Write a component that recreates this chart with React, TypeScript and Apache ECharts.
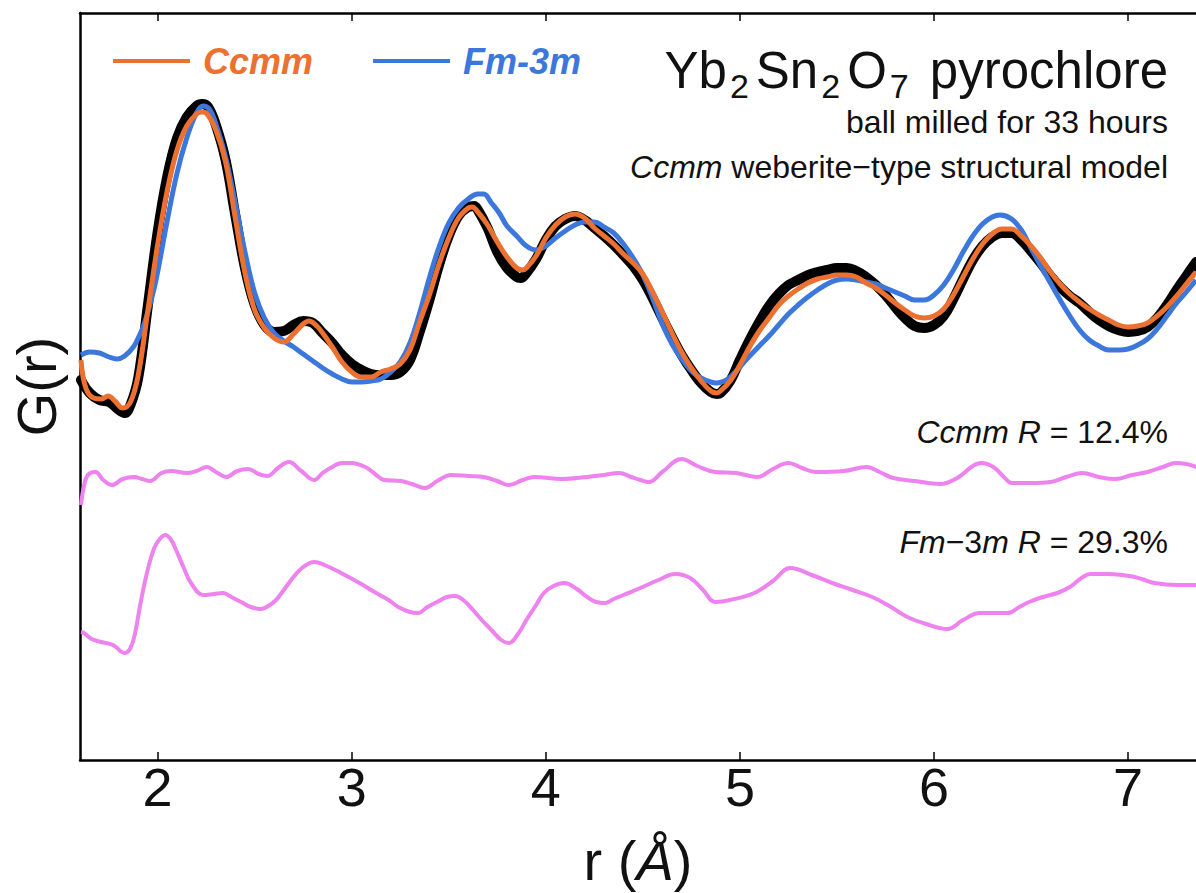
import React, { useEffect, useRef } from "react";
import * as echarts from "echarts";

const FONT = '"Liberation Sans", Arial, Helvetica, sans-serif';
const ORANGE = "#EC7030";
const BLUE = "#3C78DC";
const VIOLET = "#EE82EE";
const INK = "#111111";

const xTicks = [2, 3, 4, 5, 6, 7];

// observed G(r) (open black circles)
const obsR = [1.605, 1.65, 1.7, 1.75, 1.8, 1.83, 1.86, 1.9, 1.95, 2.0, 2.05, 2.1, 2.15, 2.2, 2.23, 2.26, 2.3, 2.35, 2.4, 2.45, 2.5, 2.55, 2.6, 2.65, 2.7, 2.75, 2.8, 2.85, 2.9, 2.95, 3.0, 3.05, 3.1, 3.15, 3.2, 3.25, 3.3, 3.35, 3.4, 3.45, 3.5, 3.55, 3.6, 3.63, 3.65, 3.7, 3.75, 3.8, 3.85, 3.87, 3.9, 3.95, 4.0, 4.05, 4.1, 4.15, 4.2, 4.25, 4.3, 4.35, 4.4, 4.45, 4.5, 4.55, 4.6, 4.65, 4.7, 4.75, 4.8, 4.85, 4.88, 4.9, 4.95, 5.0, 5.05, 5.1, 5.15, 5.2, 5.25, 5.3, 5.35, 5.4, 5.45, 5.5, 5.55, 5.6, 5.65, 5.7, 5.75, 5.8, 5.85, 5.9, 5.95, 6.0, 6.05, 6.1, 6.15, 6.2, 6.25, 6.3, 6.35, 6.4, 6.45, 6.5, 6.55, 6.6, 6.65, 6.7, 6.75, 6.8, 6.85, 6.9, 6.95, 7.0, 7.05, 7.1, 7.15, 7.2, 7.25, 7.3, 7.35];
const obsG = [2.0, 0.7, 0.0, -0.2, -1.0, -1.3, -0.5, 2.2, 9.5, 16.8, 22.4, 26.2, 28.3, 29.4, 29.6, 29.3, 27.5, 24.0, 18.5, 13.2, 9.5, 7.5, 6.8, 6.9, 7.5, 7.9, 7.7, 6.7, 5.7, 4.5, 3.6, 3.0, 2.6, 2.5, 2.5, 2.8, 4.0, 6.8, 10.0, 13.5, 16.4, 18.4, 19.3, 19.4, 19.0, 17.2, 14.8, 13.2, 12.3, 12.2, 12.7, 14.1, 16.0, 17.4, 18.1, 18.4, 18.0, 17.2, 16.4, 15.5, 14.5, 13.4, 12.0, 10.2, 8.2, 6.3, 4.5, 3.0, 1.7, 0.8, 0.6, 0.7, 1.9, 4.0, 6.0, 7.8, 9.4, 10.6, 11.5, 12.0, 12.5, 12.8, 13.0, 13.2, 13.2, 12.9, 12.3, 11.5, 10.5, 9.3, 8.2, 7.4, 7.2, 7.5, 8.4, 10.1, 12.1, 14.0, 15.4, 16.3, 16.7, 16.7, 16.0, 14.9, 13.7, 12.4, 11.3, 10.4, 9.7, 8.8, 8.0, 7.4, 7.0, 6.8, 6.9, 7.3, 8.2, 9.5, 11.0, 12.4, 13.8];

// Ccmm model fit (orange)
const ccmmR = [1.605, 1.63, 1.67, 1.71, 1.745, 1.78, 1.82, 1.86, 1.9, 1.95, 2.0, 2.05, 2.1, 2.15, 2.2, 2.23, 2.25, 2.3, 2.35, 2.4, 2.45, 2.5, 2.55, 2.6, 2.65, 2.7, 2.75, 2.78, 2.82, 2.85, 2.9, 2.95, 3.0, 3.05, 3.1, 3.15, 3.2, 3.25, 3.3, 3.35, 3.4, 3.45, 3.5, 3.55, 3.6, 3.62, 3.65, 3.7, 3.75, 3.8, 3.85, 3.88, 3.9, 3.95, 4.0, 4.05, 4.1, 4.15, 4.2, 4.25, 4.3, 4.35, 4.4, 4.45, 4.5, 4.55, 4.6, 4.65, 4.7, 4.75, 4.8, 4.85, 4.88, 4.9, 4.95, 5.0, 5.05, 5.1, 5.15, 5.2, 5.25, 5.3, 5.35, 5.4, 5.45, 5.5, 5.55, 5.6, 5.65, 5.7, 5.75, 5.8, 5.85, 5.9, 5.95, 6.0, 6.05, 6.1, 6.15, 6.2, 6.25, 6.3, 6.35, 6.4, 6.45, 6.5, 6.55, 6.6, 6.65, 6.7, 6.75, 6.8, 6.85, 6.9, 6.95, 7.0, 7.05, 7.1, 7.15, 7.2, 7.25, 7.3, 7.35];
const ccmmG = [4.0, 1.2, 0.2, 0.1, 0.4, -0.1, -0.8, -0.2, 2.5, 9.0, 15.5, 21.0, 25.0, 27.4, 28.6, 28.8, 28.7, 27.0, 23.8, 18.2, 12.7, 9.0, 7.2, 6.2, 5.8, 6.6, 7.6, 7.9, 7.4, 6.7, 5.3, 3.8, 2.8, 2.3, 2.3, 2.8, 3.1, 3.6, 5.0, 7.8, 10.5, 13.6, 16.2, 18.2, 19.2, 19.3, 18.8, 17.5, 15.8, 14.3, 13.2, 13.0, 13.2, 14.4, 16.2, 17.5, 18.3, 18.6, 18.2, 17.2, 16.4, 15.6, 14.6, 13.7, 12.6, 10.8, 8.8, 6.7, 4.8, 3.2, 1.9, 0.9, 0.7, 0.9, 1.9, 3.5, 5.3, 6.9, 8.2, 9.5, 10.4, 11.1, 11.7, 12.1, 12.3, 12.5, 12.5, 12.3, 11.7, 11.2, 10.5, 9.7, 9.0, 8.4, 8.2, 8.4, 9.1, 10.5, 12.3, 14.1, 15.6, 16.6, 17.1, 17.1, 16.4, 15.4, 14.2, 12.8, 11.6, 10.6, 9.8, 9.1, 8.5, 8.0, 7.5, 7.3, 7.4, 7.7, 8.4, 9.3, 10.4, 11.6, 12.8];

// Fm-3m model fit (blue)
const fmR = [1.605, 1.65, 1.7, 1.75, 1.79, 1.83, 1.875, 1.9, 1.925, 1.95, 1.98, 2.0, 2.05, 2.1, 2.15, 2.2, 2.235, 2.27, 2.3, 2.35, 2.4, 2.45, 2.5, 2.55, 2.6, 2.65, 2.7, 2.75, 2.8, 2.85, 2.9, 2.95, 3.0, 3.05, 3.1, 3.15, 3.2, 3.25, 3.3, 3.35, 3.4, 3.45, 3.5, 3.55, 3.6, 3.65, 3.68, 3.72, 3.76, 3.8, 3.85, 3.9, 3.95, 4.0, 4.05, 4.1, 4.15, 4.2, 4.25, 4.3, 4.35, 4.4, 4.45, 4.5, 4.55, 4.6, 4.65, 4.7, 4.75, 4.8, 4.85, 4.88, 4.92, 4.95, 5.0, 5.05, 5.1, 5.15, 5.2, 5.25, 5.3, 5.35, 5.4, 5.45, 5.5, 5.55, 5.6, 5.65, 5.7, 5.75, 5.8, 5.85, 5.9, 5.95, 6.0, 6.05, 6.1, 6.15, 6.2, 6.25, 6.3, 6.34, 6.4, 6.45, 6.5, 6.55, 6.6, 6.65, 6.7, 6.75, 6.8, 6.85, 6.9, 6.95, 7.0, 7.05, 7.1, 7.15, 7.2, 7.25, 7.3, 7.35];
const fmG = [4.5, 4.8, 4.7, 4.3, 4.1, 4.4, 5.3, 6.2, 7.3, 8.8, 11.0, 12.8, 18.0, 22.7, 26.2, 28.7, 29.4, 29.0, 27.6, 24.3, 19.7, 14.8, 10.7, 8.2, 6.7, 5.9, 5.3, 4.6, 3.9, 3.2, 2.6, 2.1, 1.8, 1.8, 1.9, 2.1, 2.8, 3.8, 5.7, 8.7, 12.2, 15.3, 17.7, 19.2, 20.1, 20.6, 20.6, 19.7, 18.7, 17.4, 16.4, 15.4, 15.0, 15.4, 16.2, 16.9, 17.5, 17.8, 17.8, 17.3, 16.7, 15.6, 14.2, 12.5, 10.2, 7.6, 5.6, 4.1, 2.9, 2.2, 1.8, 1.7, 1.9, 2.3, 3.3, 4.4, 5.4, 6.4, 7.5, 8.6, 9.5, 10.3, 11.0, 11.6, 12.0, 12.1, 12.0, 11.8, 11.6, 11.2, 10.8, 10.4, 10.0, 10.0, 10.5, 11.5, 13.0, 14.8, 16.4, 17.6, 18.3, 18.5, 18.1, 17.0, 15.2, 13.4, 11.7, 10.0, 8.4, 7.0, 6.0, 5.4, 5.0, 5.0, 5.1, 5.5, 6.1, 7.1, 8.4, 9.7, 10.8, 12.0];

// difference curves (offset below the data)
const diffCcmmR = [1.605, 1.625, 1.645, 1.68, 1.72, 1.765, 1.82, 1.878, 1.92, 1.96, 2.02, 2.07, 2.15, 2.2, 2.254, 2.3, 2.353, 2.41, 2.466, 2.52, 2.565, 2.62, 2.676, 2.74, 2.806, 2.85, 2.89, 2.95, 2.997, 3.07, 3.12, 3.167, 3.255, 3.31, 3.378, 3.44, 3.512, 3.6, 3.68, 3.75, 3.81, 3.88, 3.94, 4.085, 4.213, 4.3, 4.378, 4.44, 4.487, 4.53, 4.6, 4.7, 4.78, 4.873, 4.98, 5.09, 5.17, 5.25, 5.32, 5.39, 5.535, 5.653, 5.72, 5.79, 5.9, 6.033, 6.12, 6.2, 6.244, 6.306, 6.36, 6.4, 6.5, 6.6, 6.68, 6.765, 6.85, 6.935, 7.02, 7.1, 7.18, 7.245, 7.3, 7.353];
const diffCcmmG = [-10.5, -8.2, -7.4, -7.2, -8.0, -8.5, -7.9, -7.7, -7.9, -8.1, -7.3, -7.1, -7.3, -7.1, -6.7, -7.2, -7.7, -7.1, -6.9, -7.4, -7.6, -6.8, -6.2, -7.1, -8.0, -7.3, -6.8, -6.3, -6.3, -6.7, -7.4, -8.0, -8.1, -8.4, -8.8, -8.1, -7.5, -7.6, -7.7, -8.1, -8.5, -8.0, -7.7, -7.9, -7.7, -7.5, -7.3, -7.7, -8.0, -8.2, -7.2, -5.9, -6.6, -7.2, -7.3, -7.7, -6.9, -6.3, -6.8, -7.2, -7.1, -6.7, -7.2, -7.8, -8.1, -8.4, -7.8, -6.6, -6.3, -6.7, -7.7, -8.3, -8.3, -8.2, -7.7, -7.3, -7.7, -7.9, -7.5, -7.2, -6.7, -6.3, -6.4, -6.7];

const diffFmR = [1.605, 1.62, 1.66, 1.71, 1.77, 1.83, 1.86, 1.884, 1.91, 1.94, 1.97, 1.996, 2.04, 2.07, 2.095, 2.135, 2.172, 2.235, 2.29, 2.337, 2.38, 2.43, 2.48, 2.53, 2.57, 2.61, 2.65, 2.7, 2.75, 2.806, 2.86, 2.945, 3.04, 3.126, 3.19, 3.24, 3.3, 3.342, 3.39, 3.44, 3.49, 3.533, 3.58, 3.625, 3.67, 3.72, 3.77, 3.81, 3.86, 3.9, 3.95, 3.99, 4.04, 4.095, 4.16, 4.213, 4.26, 4.306, 4.35, 4.4, 4.487, 4.58, 4.667, 4.744, 4.81, 4.873, 4.95, 5.074, 5.17, 5.26, 5.37, 5.476, 5.58, 5.682, 5.77, 5.863, 5.96, 6.069, 6.15, 6.235, 6.3, 6.379, 6.44, 6.49, 6.56, 6.636, 6.7, 6.76, 6.806, 6.9, 7.007, 7.07, 7.136, 7.25, 7.353];
const diffFmG = [-23.2, -23.3, -23.9, -24.2, -24.5, -25.3, -24.8, -23.3, -20.5, -17.7, -15.5, -14.3, -13.5, -14.0, -15.0, -16.8, -18.3, -19.5, -19.4, -19.3, -19.7, -20.2, -20.7, -20.9, -20.6, -20.0, -19.0, -17.7, -16.7, -16.2, -16.5, -17.3, -18.3, -19.3, -20.0, -20.7, -21.2, -21.3, -20.7, -20.2, -19.7, -19.6, -20.1, -21.0, -22.0, -23.0, -24.0, -24.3, -23.3, -22.0, -20.5, -19.3, -18.6, -18.3, -18.9, -19.7, -20.2, -20.3, -19.9, -19.5, -18.8, -18.0, -17.4, -17.8, -19.0, -20.2, -20.0, -19.3, -18.1, -16.8, -17.5, -18.3, -19.0, -19.7, -20.6, -21.7, -22.4, -22.9, -22.0, -21.3, -21.3, -21.3, -20.7, -20.2, -19.7, -19.3, -18.7, -17.8, -17.4, -17.4, -17.6, -17.9, -18.3, -18.5, -18.5];

const X_MIN = 1.6;
const X_MAX = 7.35;
const Y_MIN = -36;
const Y_MAX = 38.7;

function pairs(r: number[], g: number[]) {
  return r.map((x, i) => [x, g[i]]);
}

export default function App() {
  const ref = useRef<HTMLDivElement>(null);

  useEffect(() => {
    if (!ref.current) return;
    const chart = echarts.init(ref.current, null, { renderer: "svg" });

    const axisLine = { show: true, onZero: false, lineStyle: { color: "#000", width: 2.5 } };
    const tick = {
      show: true,
      inside: true,
      length: 8,
      customValues: xTicks,
      lineStyle: { color: "#000", width: 1.5 },
    };
    const italic = { fontSize: 32, fontFamily: FONT, fontStyle: "italic", fill: INK };

    chart.setOption({
      animation: false,
      backgroundColor: "#ffffff",
      textStyle: { fontFamily: FONT },
      grid: { left: 80, top: 13, right: 0, bottom: 133, containLabel: false },
      legend: {
        show: true,
        left: 113,
        top: 43,
        padding: 0,
        itemWidth: 77,
        itemHeight: 4,
        itemGap: 60,
        icon: "rect",
        selectedMode: false,
        textStyle: {
          fontFamily: FONT,
          fontSize: 36,
          fontWeight: "bold",
          fontStyle: "italic",
          padding: [0, 0, 0, 8],
        },
        data: [
          { name: "Ccmm", textStyle: { color: ORANGE } },
          { name: "Fm-3m", textStyle: { color: BLUE } },
        ],
      },
      xAxis: [
        {
          type: "value",
          position: "bottom",
          min: X_MIN,
          max: X_MAX,
          axisLine,
          axisTick: tick,
          splitLine: { show: false },
          axisLabel: {
            show: true,
            customValues: xTicks,
            margin: 0,
            fontSize: 54,
            fontFamily: FONT,
            color: INK,
          },
          name: "{n|r (}{i|Å}{n|)}",
          nameLocation: "middle",
          nameGap: 72,
          nameTextStyle: {
            fontFamily: FONT,
            fontSize: 56,
            color: INK,
            rich: {
              n: { fontSize: 56, fontFamily: FONT, color: INK },
              i: { fontSize: 56, fontFamily: FONT, fontStyle: "italic", color: INK },
            },
          },
        },
        {
          type: "value",
          position: "top",
          min: X_MIN,
          max: X_MAX,
          axisLine,
          axisTick: tick,
          splitLine: { show: false },
          axisLabel: { show: false },
        },
      ],
      yAxis: {
        type: "value",
        min: Y_MIN,
        max: Y_MAX,
        axisLine,
        axisTick: { show: false },
        axisLabel: { show: false },
        splitLine: { show: false },
        name: "G(r)",
        nameLocation: "middle",
        nameGap: 16,
        nameRotate: 90,
        nameTextStyle: { fontFamily: FONT, fontSize: 56, color: INK },
      },
      series: [
        {
          name: "Observed",
          type: "line",
          data: pairs(obsR, obsG),
          smooth: 0.4,
          symbol: "none",
          lineStyle: { color: "#000000", width: 10, join: "round", cap: "round" },
          itemStyle: { color: "#000000" },
          z: 2,
        },
        {
          name: "Fm-3m",
          type: "line",
          data: pairs(fmR, fmG),
          smooth: 0.4,
          symbol: "none",
          lineStyle: { color: BLUE, width: 5, join: "round" },
          itemStyle: { color: BLUE },
          z: 3,
        },
        {
          name: "Ccmm",
          type: "line",
          data: pairs(ccmmR, ccmmG),
          smooth: 0.4,
          symbol: "none",
          lineStyle: { color: ORANGE, width: 5, join: "round" },
          itemStyle: { color: ORANGE },
          z: 4,
        },
        {
          name: "Ccmm difference",
          type: "line",
          data: pairs(diffCcmmR, diffCcmmG),
          smooth: 0.4,
          symbol: "none",
          lineStyle: { color: VIOLET, width: 4, join: "round" },
          itemStyle: { color: VIOLET },
          z: 3,
        },
        {
          name: "Fm-3m difference",
          type: "line",
          data: pairs(diffFmR, diffFmG),
          smooth: 0.4,
          symbol: "none",
          lineStyle: { color: VIOLET, width: 4, join: "round" },
          itemStyle: { color: VIOLET },
          z: 3,
        },
      ],
      graphic: [
        {
          type: "text",
          z: 10,
          style: {
            x: 1168,
            y: 70,
            align: "right",
            verticalAlign: "middle",
            text: "{m|Yb}{s|2}{m|Sn}{s|2}{m|O}{s|7}{m| pyrochlore}",
            fontFamily: FONT,
            fontSize: 51,
            fill: INK,
            rich: {
              m: { fontSize: 51, fontFamily: FONT, fill: INK, lineHeight: 60 },
              s: { fontSize: 34, fontFamily: FONT, fill: INK, lineHeight: 60, padding: [31, 7, 0, 3] },
            },
          },
        },
        {
          type: "text",
          z: 10,
          style: {
            x: 1168,
            y: 122,
            align: "right",
            verticalAlign: "middle",
            text: "ball milled for 33 hours",
            fontFamily: FONT,
            fontSize: 32,
            fill: INK,
          },
        },
        {
          type: "text",
          z: 10,
          style: {
            x: 1168,
            y: 167,
            align: "right",
            verticalAlign: "middle",
            text: "{i|Ccmm} weberite\u2212type structural model",
            fontFamily: FONT,
            fontSize: 32,
            fill: INK,
            rich: { i: italic },
          },
        },
        {
          type: "text",
          z: 10,
          style: {
            x: 1168,
            y: 432,
            align: "right",
            verticalAlign: "middle",
            text: "{i|Ccmm R} = 12.4%",
            fontFamily: FONT,
            fontSize: 32,
            fill: INK,
            rich: { i: italic },
          },
        },
        {
          type: "text",
          z: 10,
          style: {
            x: 1168,
            y: 542,
            align: "right",
            verticalAlign: "middle",
            text: "{i|Fm}\u22123{i|m R} = 29.3%",
            fontFamily: FONT,
            fontSize: 32,
            fill: INK,
            rich: { i: italic },
          },
        },
      ],
    });

    return () => {
      chart.dispose();
    };
  }, []);

  return (
    <div
      ref={ref}
      style={{ position: "absolute", left: 0, top: 0, width: 1196, height: 893, background: "#fff" }}
    />
  );
}
